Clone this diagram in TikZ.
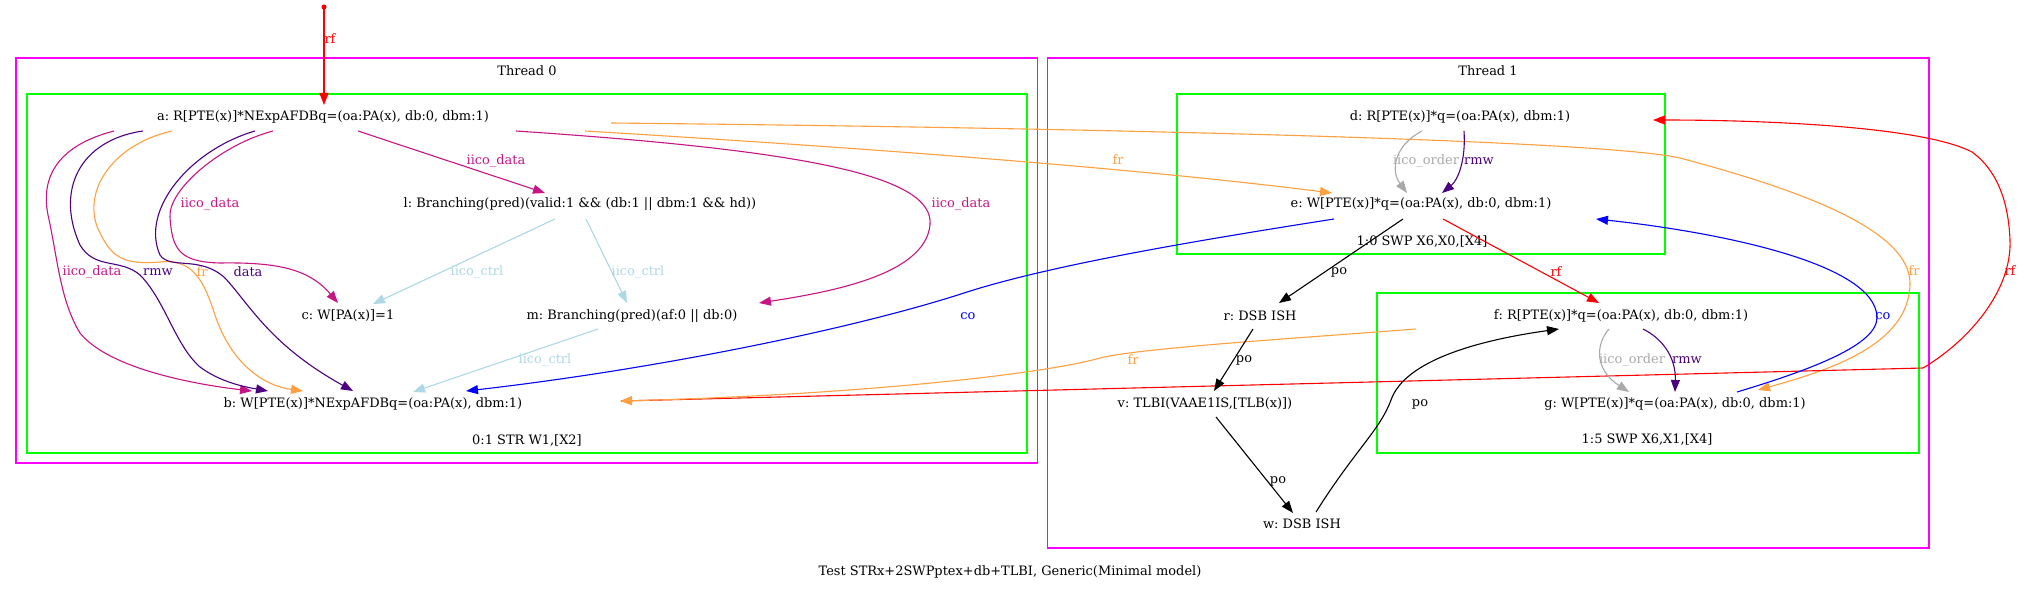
\documentclass[tikz,border=0pt]{standalone}
\usepackage{fontspec}
\setmainfont{DejaVu Serif}
\usetikzlibrary{arrows.meta,calc}
\definecolor{iicod}{HTML}{C71585}
\definecolor{indg}{HTML}{4B0082}
\definecolor{frc}{HTML}{FFA040}
\definecolor{ctrlc}{HTML}{ADD8E6}
\definecolor{ordc}{HTML}{A9A9A9}
\definecolor{magc}{HTML}{FF00FF}
\definecolor{grc}{HTML}{00FF00}
\newcommand\gvfont{\fontsize{13}{15}\selectfont\frenchspacing}
\tikzset{
  ev/.style={font=\gvfont, inner sep=0pt, minimum height=26bp},
  lb/.style={font=\gvfont, inner sep=0pt},
  ar/.style={-{Triangle[length=12bp,width=9bp]}, line width=1.1bp},
  clu/.style={line width=1.3bp},
}
\begin{document}
\begin{tikzpicture}[x=1bp,y=-1bp]
\fill[white] (0,0) rectangle (2023,591);
\useasboundingbox (0,0) rectangle (2023,591);
% clusters
\draw[clu,magc] (16,58) rectangle (1037.5,463);
\draw[clu,grc] (27,94) rectangle (1027,453);
\draw[clu,magc] (1047.5,58) rectangle (1929,548);
\draw[clu,grc] (1177,94) rectangle (1665,254);
\draw[clu,grc] (1377,293) rectangle (1919,453);
\node[lb] (t0) at (527,71) {Thread 0};
\node[lb] (s0) at (527,440) {0:1 STR W1,[X2]};
\node[lb] (t1) at (1488,71) {Thread 1};
\node[lb] (s1) at (1422,241) {1:0 SWP X6,X0,[X4]};
\node[lb] (s2) at (1647,439) {1:5 SWP X6,X1,[X4]};
\node[lb] (cap) at (1010,572) {Test STRx+2SWPptex+db+TLBI, Generic(Minimal model)};
% events
\node[ev] (a) at (323,117) {a: R[PTE(x)]*NExpAFDBq=(oa:PA(x), db:0, dbm:1)};
\node[ev] (l) at (580,204) {l: Branching(pred)(valid:1 \&\& (db:1 || dbm:1 \&\& hd))};
\node[ev] (c) at (348,316) {c: W[PA(x)]=1};
\node[ev] (m) at (632,316) {m: Branching(pred)(af:0 || db:0)};
\node[ev] (b) at (373,404) {b: W[PTE(x)]*NExpAFDBq=(oa:PA(x), dbm:1)};
\node[ev] (d) at (1460,117) {d: R[PTE(x)]*q=(oa:PA(x), dbm:1)};
\node[ev] (e) at (1421,204) {e: W[PTE(x)]*q=(oa:PA(x), db:0, dbm:1)};
\node[ev] (r) at (1260,316) {r: DSB ISH};
\node[ev] (f) at (1621,316) {f: R[PTE(x)]*q=(oa:PA(x), db:0, dbm:1)};
\node[ev] (v) at (1205,404) {v: TLBI(VAAE1IS,[TLB(x)])};
\node[ev] (g) at (1675,404) {g: W[PTE(x)]*q=(oa:PA(x), db:0, dbm:1)};
\node[ev] (w) at (1302,524) {w: DSB ISH};
% initial write
\coordinate (init) at (324,7);
\fill[red] (init) circle (2.5);
\draw[ar,red] (init) -- ($(a)+(1,-12)$);
\node[lb,red] (lrf0) at (330,39) {rf};
% thread 0 edges
\draw[ar,iicod] ($(a)+(35,14)$) -- ($(l)+(-35,-11)$);
\node[lb,iicod] (l1) at (496,161) {iico\_data};
\draw[ar,iicod] ($(a)+(-50,14)$) .. controls (220,145) and (168,190) .. (170,217)
  .. controls (172,250) and (180,262) .. (220,263)
  .. controls (280,262) and (310,270) .. ($(c)+(-10,-13)$);
\node[lb,iicod] (l2) at (210,204) {iico\_data};
\draw[ar,iicod] ($(a)+(-209,14)$) .. controls (60,145) and (40,175) .. (48,215)
  .. controls (58,260) and (60,300) .. (80,333)
  .. controls (110,370) and (200,385) .. ($(b)+(-121,-13)$);
\node[lb,iicod] (l3) at (92,272) {iico\_data};
\draw[ar,indg] ($(a)+(-180,14)$) .. controls (80,140) and (55,190) .. (80,245)
  .. controls (95,270) and (120,258) .. (140,275)
  .. controls (165,300) and (175,345) .. (200,367)
  .. controls (220,382) and (245,387) .. ($(b)+(-105,-13)$);
\node[lb,indg] (l4) at (158,272) {rmw};
\draw[ar,frc] ($(a)+(-151,14)$) .. controls (110,145) and (80,195) .. (100,233)
  .. controls (112,258) and (125,265) .. (160,262)
  .. controls (195,258) and (205,285) .. (215,315)
  .. controls (230,360) and (260,385) .. ($(b)+(-70,-13)$);
\node[lb,frc] (l5) at (202,272) {fr};
\draw[ar,indg] ($(a)+(-68,14)$) .. controls (190,150) and (140,210) .. (160,255)
  .. controls (170,270) and (200,255) .. (225,278)
  .. controls (250,305) and (270,345) .. ($(b)+(-20,-13)$);
\node[lb,indg] (l6) at (248,272) {data};
\draw[ar,iicod] ($(a)+(193,14)$) .. controls (800,150) and (935,175) .. (930,225)
  .. controls (925,275) and (830,292) .. ($(m)+(127,-13)$);
\node[lb,iicod] (l7) at (961,204) {iico\_data};
\draw[ar,ctrlc] ($(l)+(-25,15)$) -- ($(c)+(25,-12)$);
\node[lb,ctrlc] (l8) at (477,272) {iico\_ctrl};
\draw[ar,ctrlc] ($(l)+(6,15)$) -- ($(m)+(-5,-13)$);
\node[lb,ctrlc] (l9) at (638,272) {iico\_ctrl};
\draw[ar,ctrlc] ($(m)+(-34,13)$) -- ($(b)+(40,-12)$);
\node[lb,ctrlc] (l10) at (545,360) {iico\_ctrl};
% cross edges
\draw[ar,frc] ($(a)+(262,14)$) .. controls (900,150) and (1150,170) .. ($(e)+(-89,-11)$);
\node[lb,frc] (l11) at (1118,160) {fr};
\draw[ar,frc] ($(a)+(288,6)$) .. controls (1100,128) and (1600,140) .. (1680,158)
  .. controls (1800,190) and (1912,230) .. (1910,285)
  .. controls (1908,345) and (1830,370) .. ($(g)+(83,-14)$);
\node[lb,frc] (l12) at (1914,271) {fr};
\draw[ar,blue] ($(e)+(-87,15)$) .. controls (1200,240) and (1050,265) .. (964,293)
  .. controls (850,330) and (650,370) .. ($(b)+(93,-13)$);
\node[lb,blue] (l13) at (968,316) {co};
\draw[ar,red] ($(b)+(248,-3)$) -- (1923,368)
  .. controls (1970,340) and (2012,290) .. (2010,240)
  .. controls (2008,190) and (1990,165) .. (1972,152)
  .. controls (1920,125) and (1750,120) .. ($(d)+(193,3)$);
\node[lb,red] (l15) at (2010,271) {rf};
\draw[ar,frc] ($(f)+(-205,13)$) .. controls (1300,338) and (1140,348) .. (1100,358)
  .. controls (1040,375) and (850,395) .. ($(b)+(247,-3)$);
\node[lb,frc] (l14) at (1133,360) {fr};
% thread 1 edges
\draw[ar,ordc] ($(d)+(-38,14)$) .. controls (1395,145) and (1390,170) .. ($(e)+(-14,-11)$);
\node[lb,ordc] (l16) at (1426,161) {iico\_order};
\draw[ar,indg] ($(d)+(4,14)$) .. controls (1466,160) and (1458,180) .. ($(e)+(21,-11)$);
\node[lb,indg] (l17) at (1479,161) {rmw};
\draw[ar,black] ($(e)+(-18,15)$) -- ($(r)+(19,-13)$);
\node[lb] (l18) at (1339,272) {po};
\draw[ar,red] ($(e)+(22,15)$) -- ($(f)+(-22,-13)$);
\node[lb,red] (l19) at (1556,272) {rf};
\draw[ar,black] ($(r)+(-7,13)$) -- ($(v)+(9,-13)$);
\node[lb] (l20) at (1244,360) {po};
\draw[ar,black] ($(v)+(11,13)$) -- ($(w)+(-9,-11)$);
\node[lb] (l21) at (1278,481) {po};
\draw[ar,black] ($(w)+(14,-12)$) .. controls (1355,450) and (1380,430) .. (1391,400)
  .. controls (1405,360) and (1480,340) .. ($(f)+(-62,13)$);
\node[lb] (l22) at (1420,404) {po};
\draw[ar,ordc] ($(f)+(-12,13)$) .. controls (1595,345) and (1595,370) .. ($(g)+(-46,-12)$);
\node[lb,ordc] (l23) at (1632,360) {iico\_order};
\draw[ar,indg] ($(f)+(22,13)$) .. controls (1665,340) and (1676,360) .. ($(g)+(0,-12)$);
\node[lb,indg] (l24) at (1687,360) {rmw};
\draw[ar,blue] ($(g)+(62,-12)$) .. controls (1810,370) and (1878,345) .. (1877,317)
  .. controls (1875,260) and (1700,230) .. ($(e)+(175,15)$);
\node[lb,blue] (l25) at (1883,316) {co};
\end{tikzpicture}
\end{document}
